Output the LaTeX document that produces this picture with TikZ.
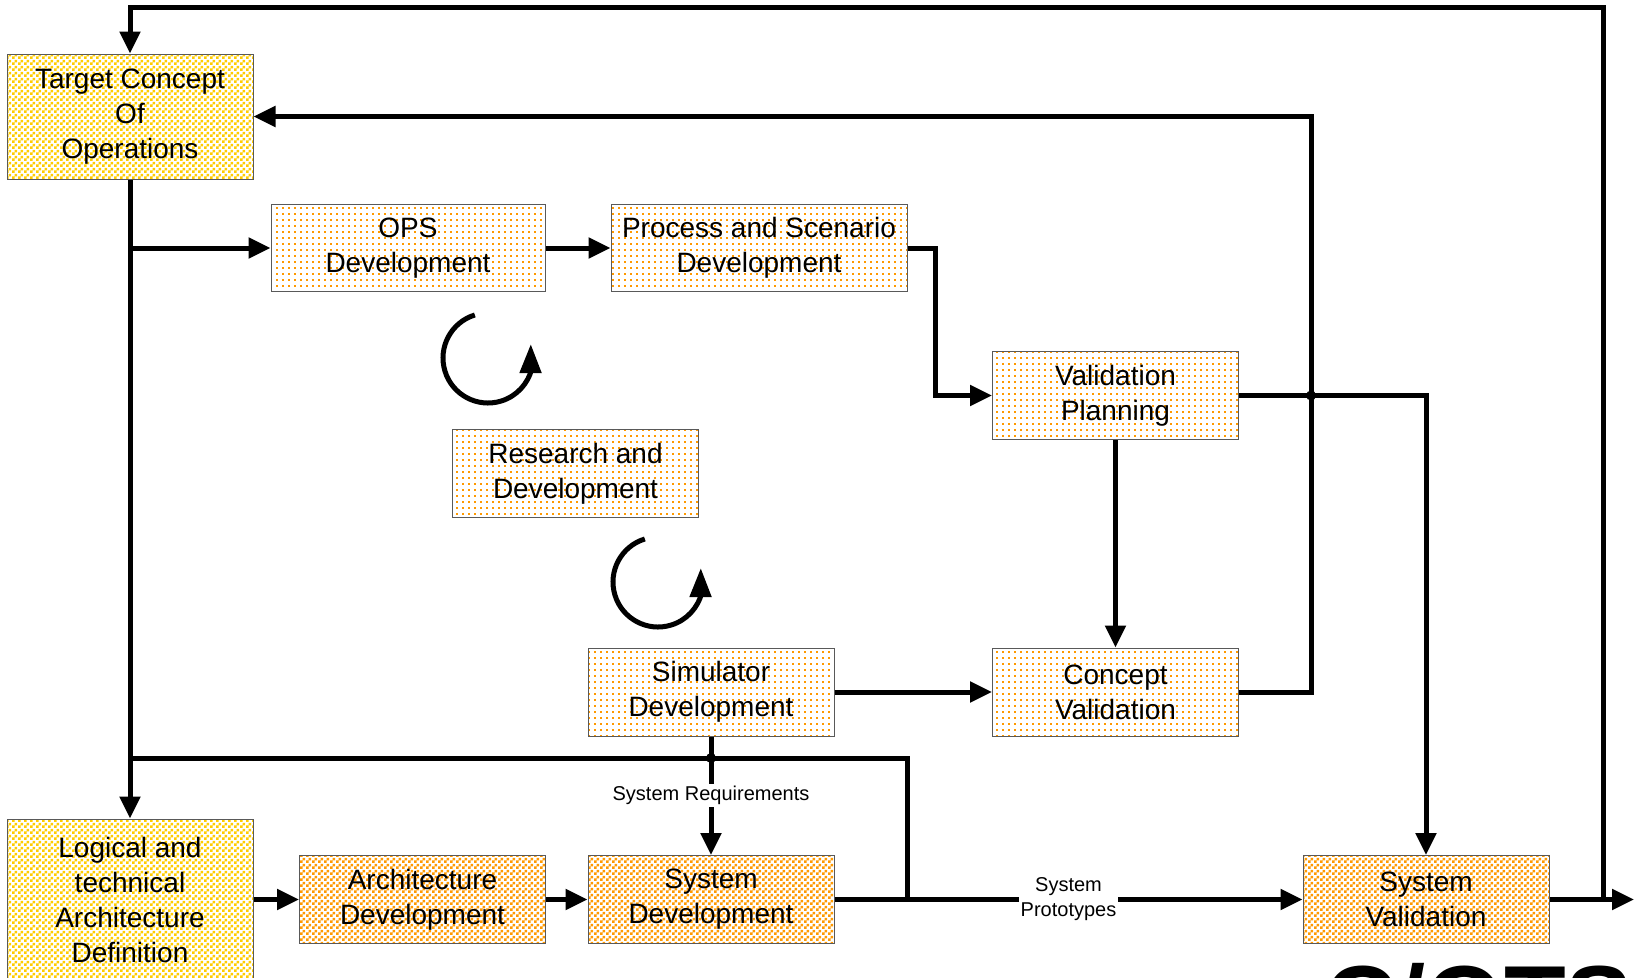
\documentclass[tikz,border=0pt]{standalone}
\usepackage{fontspec}
\setmainfont{Liberation Sans}
\usetikzlibrary{positioning, arrows.meta, bending, patterns.meta}
\definecolor{gold}{HTML}{FFCC00}
\definecolor{amber}{HTML}{FF9900}

\tikzdeclarepattern{name=chequer, type=uncolored,
  bounding box={(0,0) and (6pt,6pt)}, tile size={(6pt,6pt)},
  code={\fill (0,0) rectangle (3pt,3pt) (3pt,3pt) rectangle (6pt,6pt);}}
\tikzdeclarepattern{name=specks, type=uncolored,
  bounding box={(0,0) and (6pt,6pt)}, tile size={(6pt,6pt)},
  code={\fill (0,0) rectangle (2.2pt,2.2pt);}}

\begin{document}
\begin{tikzpicture}[x=1pt, y=-1pt, line width=5pt,
   arr/.style = {-{Triangle[length=22pt,width=20pt]}},
   box/.style = {draw=black!65, line width=1pt, align=center, inner sep=0pt,
                 minimum width=246pt, minimum height=88pt,
                 font=\fontsize{28}{35}\selectfont},
   conopsbox/.style = {box, pattern=chequer, pattern color=gold},
   devbox/.style = {box, pattern=specks, pattern color=amber},
   buildbox/.style = {box, pattern=chequer, pattern color=amber},
   flowlabel/.style = {fill=white, inner sep=2pt, align=center,
                       font=\fontsize{20}{25}\selectfont}]
   \useasboundingbox (0,0) rectangle (1638,977);
   % boxes
   \node[conopsbox, minimum height=125pt] (conops) at (130,116.5) {Target Concept\\Of\\Operations};
   \node[devbox, minimum width=274pt, minimum height=87pt] (ops) at (408,248) {OPS\\Development};
   \node[devbox, minimum width=296pt, minimum height=87pt] (proc) at (759,248) {Process and Scenario\\Development};
   \node[devbox] (plan) at (1115.5,395.5) {Validation\\Planning};
   \node[devbox] (rnd) at (575.5,473.5) {Research and\\Development};
   \node[devbox] (sim) at (711,692) {Simulator\\Development};
   \node[devbox] (cval) at (1115.5,692) {Concept\\Validation};
   \node[conopsbox, minimum height=161pt] (logic) at (130,899.5) {Logical and\\technical\\Architecture\\Definition};
   \node[buildbox] (arch) at (422.5,899.5) {Architecture\\Development};
   \node[buildbox] (sysdev) at (711,899.5) {System\\Development};
   \node[buildbox] (sysval) at (1426,899.5) {System\\Validation};
   \node[anchor=base west, inner sep=0pt, font=\bfseries\fontsize{101}{101}\selectfont] (mark) at (1322,1036) {C/OTS};
   % connectors
   \coordinate (busL) at (130,758);
   \coordinate (busR) at (907,758);
   \coordinate (top) at (1603.5,7);
   \coordinate (exit) at (1634,899.5);
   \path (cval.east) ++(72,0) coordinate (fb);
   \draw[arr] (conops) -- (logic);
   \draw[arr] (conops.south |- ops) -- (ops);
   \draw[arr] (ops) -- (proc);
   \draw[arr] (proc.east) -- ++(28,0) |- (plan);
   \draw[arr] (plan) -- (cval);
   \draw[arr] (sim) -- (cval);
   \draw[arr] (cval.east) -- (fb) |- (conops);
   \draw[arr] (plan.east) -| (sysval);
   \draw[arr] (logic) -- (arch);
   \draw[arr] (arch) -- (sysdev);
   \draw[arr] (sysdev) -- node[flowlabel] {System\\Prototypes} (sysval);
   \draw[arr] (sim) -- node[flowlabel] {System Requirements} (sysdev);
   \draw (busL) -- (busR) -- (busR |- sysdev);
   \draw[arr] (sysval) -- (exit);
   \draw[arr] (top |- sysval) -- (top) -| (conops);
   \fill (busL -| sim) circle[radius=5pt];
   \fill (fb |- plan) circle[radius=5pt];
   % iteration loops
   \foreach \cx/\cy in {488/358, 658/582}
     \draw[-{Triangle[length=29pt,width=21pt]}] (\cx,\cy) ++(107:45pt)
       arc[start angle=107, end angle=378, radius=45pt];
\end{tikzpicture}
\end{document}
